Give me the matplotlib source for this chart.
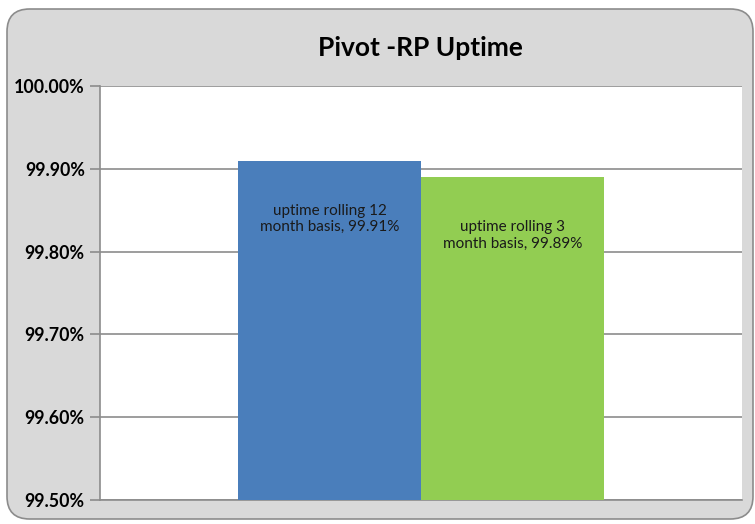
import matplotlib
matplotlib.use("Agg")
import matplotlib.pyplot as plt
from matplotlib.patches import FancyBboxPatch
from matplotlib.ticker import FuncFormatter

# data
series = ["uptime rolling 12 month basis", "uptime rolling 3 month basis"]
values = [99.91, 99.89]
labels = ["uptime rolling 12\nmonth basis, 99.91%", "uptime rolling 3\nmonth basis, 99.89%"]
colors = ["#4A7EBB", "#92CD52"]
yticks = [99.50, 99.60, 99.70, 99.80, 99.90, 100.00]

plt.rcParams['font.family'] = ['Lato', 'DejaVu Sans']

fig = plt.figure(figsize=(7.55, 5.24), dpi=100)
fig.patch.set_facecolor("white")

# rounded chart area
W, H = 755, 524
bg = FancyBboxPatch((7 / W, 5 / H), 746 / W, 510 / H,
                    boxstyle="round,pad=0,rounding_size=0.03",
                    transform=fig.transFigure, facecolor="#D9D9D9",
                    edgecolor="#8C8C8C", linewidth=1.2, mutation_aspect=W / H,
                    zorder=-5)
fig.patches.append(bg)

ax = fig.add_axes([100 / W, 24 / H, 642 / W, 414 / H])
ax.set_facecolor("white")

w = 0.285
xs = [-w / 2, w / 2]
bars = ax.bar(xs, [v - 99.5 for v in values], width=w, bottom=99.5,
              color=colors, zorder=3)

for x, v, lab in zip(xs, values, labels):
    ax.annotate(lab, (x, v), xytext=(0, -42), textcoords="offset points",
                ha="center", va="center", fontsize=11, color="#1a1a1a",
                linespacing=1.2, zorder=4)

ax.set_xlim(-0.5, 0.5)
ax.set_ylim(99.5, 100.0)
ax.set_yticks(yticks)
ax.yaxis.set_major_formatter(FuncFormatter(lambda v, p: f"{v:.2f}%"))
ax.set_xticks([])
ax.grid(axis="y", color="#8C8C8C", linewidth=1.2, zorder=0)
ax.tick_params(axis="y", length=7, width=1.2, color="#8C8C8C", pad=4,
               labelsize=12.8)
for lab in ax.get_yticklabels():
    lab.set_fontweight("bold")
for s in ["top", "right"]:
    ax.spines[s].set_visible(False)
for s in ["left", "bottom"]:
    ax.spines[s].set_color("#8C8C8C")
    ax.spines[s].set_linewidth(1.2)

fig.text(420 / W, 1 - 48 / H, "Pivot -RP Uptime", ha="center", va="center",
         fontsize=19, fontweight="bold")

fig.savefig("out.png", dpi=100)
